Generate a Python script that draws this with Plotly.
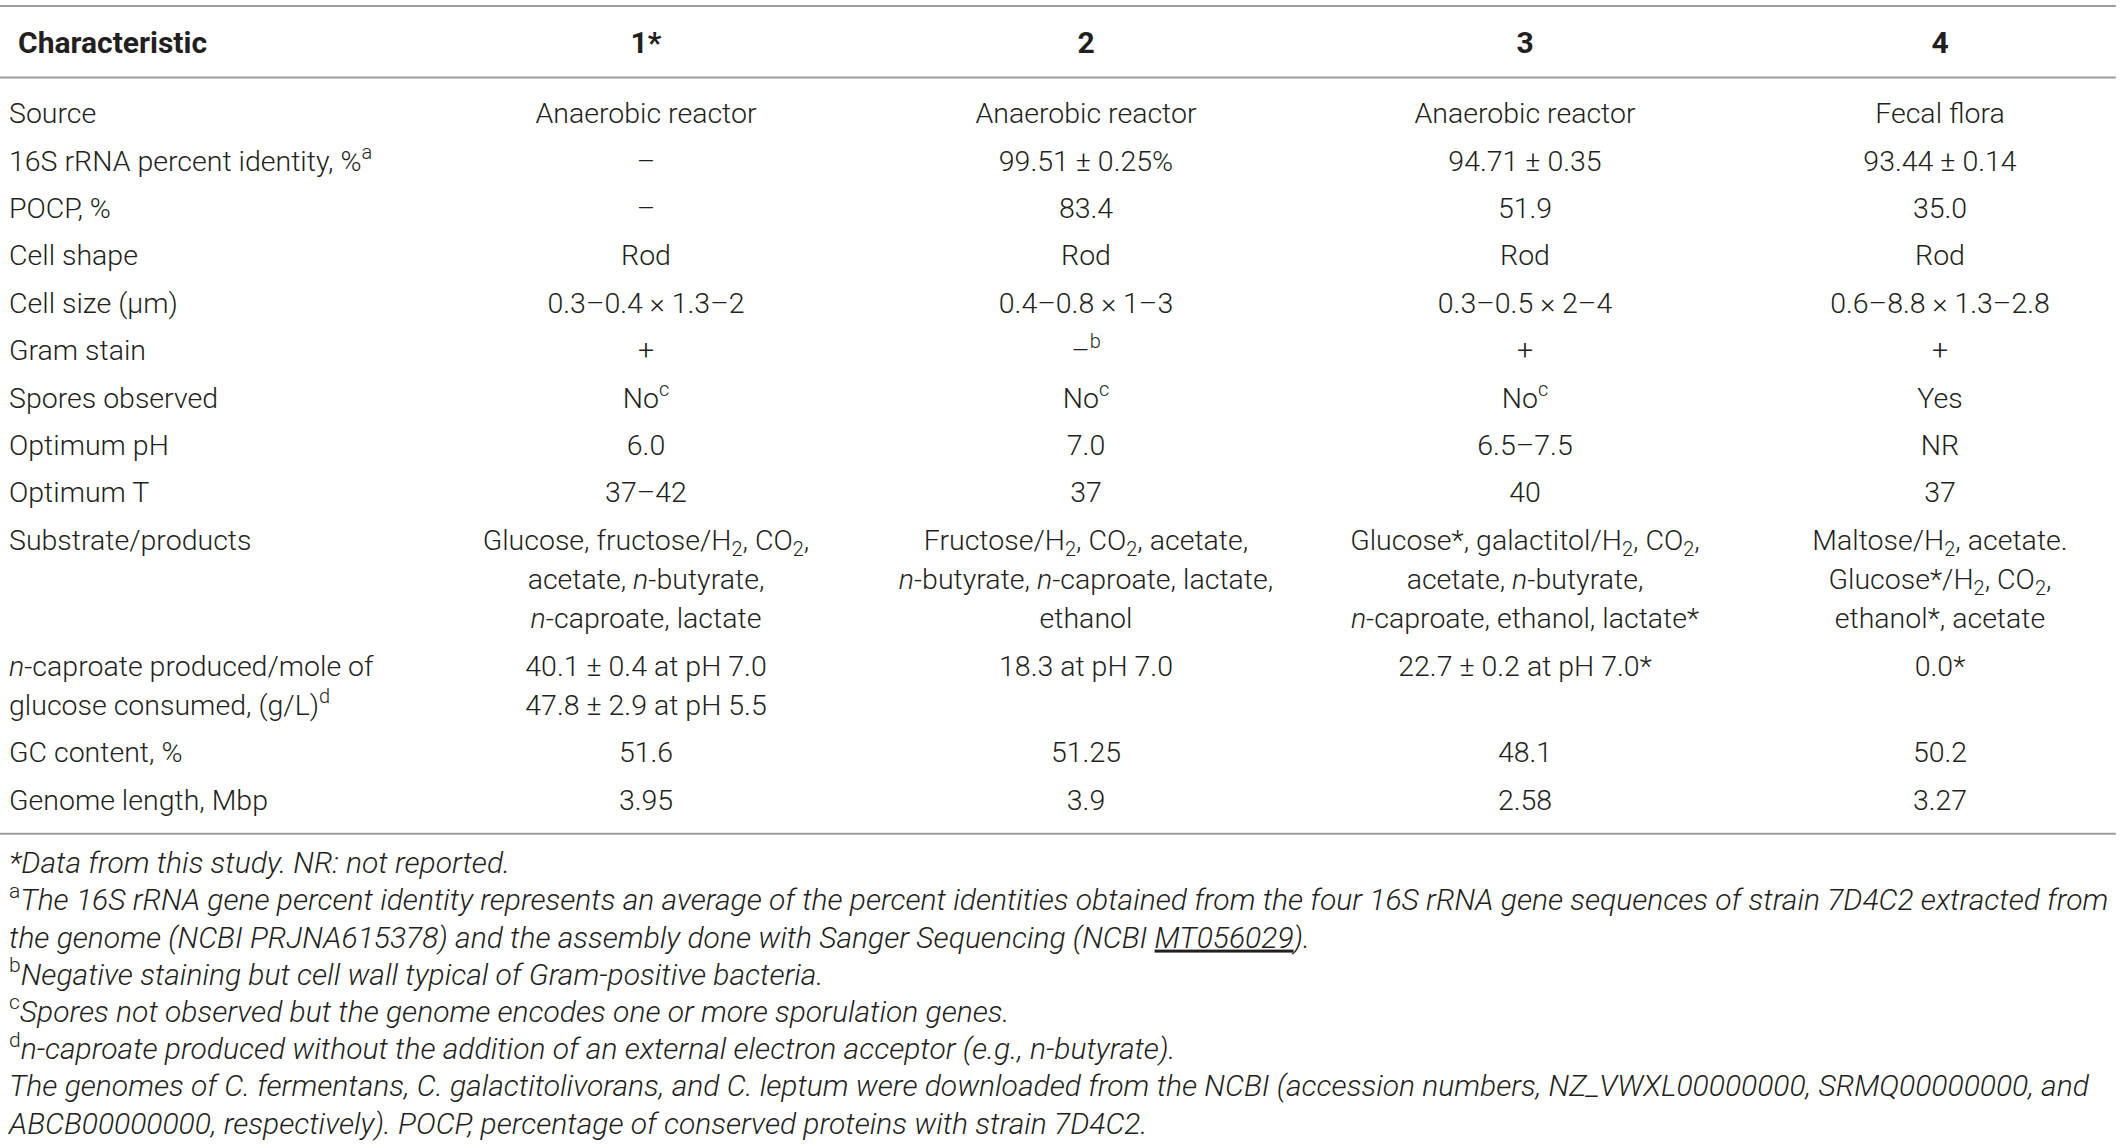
import plotly.graph_objects as go

# TABLE CONTENT
columns = ["<b>Characteristic</b>", "<b>1*</b>", "<b>2</b>", "<b>3</b>", "<b>4</b>"]

characteristics = [
    "Source",
    "16S rRNA percent identity, %<sup>a</sup>",
    "POCP, %",
    "Cell shape",
    "Cell size (μm)",
    "Gram stain",
    "Spores observed",
    "Optimum pH",
    "Optimum T",
    "Substrate/products",
    "<i>n</i>-caproate produced/mole of<br>glucose consumed, (g/L)<sup>d</sup>",
    "GC content, %",
    "Genome length, Mbp",
]

strain_1 = [
    "Anaerobic reactor", "–", "–", "Rod", "0.3–0.4 × 1.3–2", "+", "No<sup>c</sup>", "6.0", "37–42",
    "Glucose, fructose/H<sub>2</sub>, CO<sub>2</sub>,<br>acetate, <i>n</i>-butyrate,<br><i>n</i>-caproate, lactate",
    "40.1 ± 0.4 at pH 7.0<br>47.8 ± 2.9 at pH 5.5",
    "51.6", "3.95",
]
strain_2 = [
    "Anaerobic reactor", "99.51 ± 0.25%", "83.4", "Rod", "0.4–0.8 × 1–3", "–<sup>b</sup>", "No<sup>c</sup>", "7.0", "37",
    "Fructose/H<sub>2</sub>, CO<sub>2</sub>, acetate,<br><i>n</i>-butyrate, <i>n</i>-caproate, lactate,<br>ethanol",
    "18.3 at pH 7.0",
    "51.25", "3.9",
]
strain_3 = [
    "Anaerobic reactor", "94.71 ± 0.35", "51.9", "Rod", "0.3–0.5 × 2–4", "+", "No<sup>c</sup>", "6.5–7.5", "40",
    "Glucose*, galactitol/H<sub>2</sub>, CO<sub>2</sub>,<br>acetate, <i>n</i>-butyrate,<br><i>n</i>-caproate, ethanol, lactate*",
    "22.7 ± 0.2 at pH 7.0*",
    "48.1", "2.58",
]
strain_4 = [
    "Fecal flora", "93.44 ± 0.14", "35.0", "Rod", "0.6–8.8 × 1.3–2.8", "+", "Yes", "NR", "37",
    "Maltose/H<sub>2</sub>, acetate.<br>Glucose*/H<sub>2</sub>, CO<sub>2</sub>,<br>ethanol*, acetate",
    "0.0*",
    "50.2", "3.27",
]

footnotes = [
    "<i>*Data from this study. NR: not reported.</i>",
    "<sup>a</sup><i>The 16S rRNA gene percent identity represents an average of the percent identities obtained from the four 16S rRNA gene sequences of strain 7D4C2 extracted from</i>",
    "<i>the genome (NCBI PRJNA615378) and the assembly done with Sanger Sequencing (NCBI <u>MT056029</u>).</i>",
    "<sup>b</sup><i>Negative staining but cell wall typical of Gram-positive bacteria.</i>",
    "<sup>c</sup><i>Spores not observed but the genome encodes one or more sporulation genes.</i>",
    "<sup>d</sup><i>n-caproate produced without the addition of an external electron acceptor (e.g., n-butyrate).</i>",
    "<i>The genomes of C. fermentans, C. galactitolivorans, and C. leptum were downloaded from the NCBI (accession numbers, NZ_VWXL00000000, SRMQ00000000, and</i>",
    "<i>ABCB00000000, respectively). POCP, percentage of conserved proteins with strain 7D4C2.</i>",
]

# LAYOUT SETTINGS
W, H = 2120, 1145
FONT = "Roboto"
INK = "#231f20"
RULE = "#9b9b9b"
COL_X = [9, 646, 1086, 1525, 1940]
HEAD_X0 = 18
HEAD_Y = 42
FIRST_ROW_Y = 113
ROW_PITCH = 47.4
LINE_STEP = 39.3
NOTE_STEP = 37.2
TEXT_DY = 3  # text sits a touch high in its line box

body = [characteristics, strain_1, strain_2, strain_3, strain_4]

# ROW POSITIONS (multi-line cells push the next row down)
row_y = []
y = FIRST_ROW_Y
for r in range(len(characteristics)):
    row_y.append(y)
    n = max(len(col[r].split("<br>")) for col in body)
    y += ROW_PITCH + (n - 1) * LINE_STEP
last_y = row_y[-1] + (max(len(col[-1].split("<br>")) for col in body) - 1) * LINE_STEP

top_rule = HEAD_Y - 36
head_rule = (HEAD_Y + FIRST_ROW_Y) / 2
bottom_rule = last_y + 34
note_y0 = bottom_rule + 29

fig = go.Figure()

# HEADER
fig.add_trace(go.Scatter(
    x=[HEAD_X0] + COL_X[1:], y=[HEAD_Y + TEXT_DY] * len(columns), text=columns, mode="text",
    textposition=["middle right"] + ["middle center"] * 4,
    textfont=dict(family=FONT, size=30, color=INK), hoverinfo="skip"))

# BODY CELLS, ONE TRACE PER COLUMN, ONE POINT PER TEXT LINE
for c, col in enumerate(body):
    xs, ys, ts = [], [], []
    for r, cell in enumerate(col):
        for k, line in enumerate(cell.split("<br>")):
            xs.append(COL_X[c])
            ys.append(row_y[r] + k * LINE_STEP + TEXT_DY)
            ts.append(line)
    fig.add_trace(go.Scatter(
        x=xs, y=ys, text=ts, mode="text",
        textposition="middle right" if c == 0 else "middle center",
        textfont=dict(family=FONT, size=28.5, color=INK, weight=300), hoverinfo="skip"))

# FOOTNOTES
fig.add_trace(go.Scatter(
    x=[COL_X[0]] * len(footnotes),
    y=[note_y0 + i * NOTE_STEP + TEXT_DY for i in range(len(footnotes))],
    text=footnotes, mode="text", textposition="middle right",
    textfont=dict(family=FONT, size=30, color=INK, weight=300), hoverinfo="skip"))

# HORIZONTAL RULES
for yy in [top_rule, head_rule, bottom_rule]:
    fig.add_shape(type="line", xref="paper", yref="y", x0=0, x1=0.998, y0=yy, y1=yy,
                  line=dict(color=RULE, width=2))

fig.update_layout(width=W, height=H, margin=dict(l=0, r=0, t=0, b=0),
                  plot_bgcolor="white", paper_bgcolor="white", showlegend=False,
                  xaxis=dict(range=[0, W], visible=False, fixedrange=True),
                  yaxis=dict(range=[H, 0], visible=False, fixedrange=True))

# drop the default page margin so the figure sits flush in the window
fig.write_html("out.html", config={"displayModeBar": False},
               post_script="document.body.style.margin='0';")
